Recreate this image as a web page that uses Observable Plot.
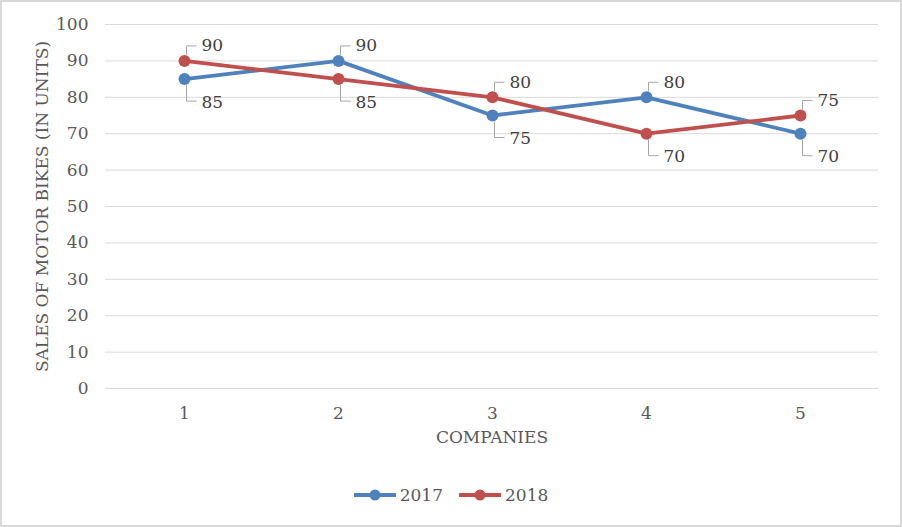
<!DOCTYPE html>
<html><head><meta charset="utf-8">
<script src="https://cdn.jsdelivr.net/npm/d3@7"></script>
<script src="https://cdn.jsdelivr.net/npm/@observablehq/plot@0.6"></script>
<style>
html,body{margin:0;padding:0;background:#fff;}
#chart{width:902px;height:527px;position:relative;font-family:"DejaVu Serif",serif;color:#595959;overflow:hidden;background:#fff}
#frame{position:absolute;left:0;top:0;width:902px;height:527px;box-sizing:border-box;border:2px solid #d9d9d9;pointer-events:none}
#legend{position:absolute;top:484px;left:0;width:100%;display:flex;justify-content:center;gap:16px;font-size:17px;line-height:22px}
.item{display:flex;align-items:center;gap:4px}
</style></head>
<body><div id="chart"><div id="frame"></div><div id="legend"></div></div>
<script>
const companies = [1, 2, 3, 4, 5];
const sales2017 = [85, 90, 75, 80, 70];
const sales2018 = [90, 85, 80, 70, 75];
const seriesNames = ["2017", "2018"];
const seriesColors = ["#4F81BD", "#C0504D"];
const yTicks = [0, 10, 20, 30, 40, 50, 60, 70, 80, 90, 100];
const yLabel = "SALES OF MOTOR BIKES (IN UNITS)";
const xLabel = "COMPANIES";

const seriesValues = [sales2017, sales2018];
const rows = [];
companies.forEach((c, i) => {
  seriesNames.forEach((s, k) => {
    const v = seriesValues[k][i];
    const other = seriesValues[1 - k][i];
    rows.push({company: c, series: s, value: v, above: v > other});
  });
});
const aboveRows = rows.filter(d => d.above);
const belowRows = rows.filter(d => !d.above);

const leaderUp = {draw(ctx) { ctx.moveTo(2, -6); ctx.lineTo(2, -15); ctx.lineTo(12, -15); }};
const leaderDown = {draw(ctx) { ctx.moveTo(2, 6); ctx.lineTo(2, 22); ctx.lineTo(12, 22); }};

const chart = Plot.plot({
  width: 902,
  height: 470,
  marginTop: 24,
  marginBottom: 82,
  marginLeft: 105,
  marginRight: 24,
  style: {fontFamily: "DejaVu Serif, serif", fontSize: "17px", color: "#595959", background: "transparent"},
  x: {type: "point", domain: companies, padding: 0.5, label: null},
  y: {domain: [0, 100], label: null},
  color: {domain: seriesNames, range: seriesColors},
  marks: [
    Plot.gridY(yTicks, {stroke: "#d9d9d9", strokeOpacity: 1, strokeWidth: 1}),
    Plot.axisY(yTicks, {tickSize: 0, tickPadding: 17, fontSize: 17, label: null}),
    Plot.axisX(companies, {tickSize: 0, tickPadding: 18, fontSize: 17, label: null}),
    Plot.text([yLabel], {frameAnchor: "left", dx: -63, rotate: -90, textAnchor: "middle", fontSize: 17, fill: "#595959"}),
    Plot.text([xLabel], {frameAnchor: "bottom", dy: 54, textAnchor: "middle", fontSize: 17, fill: "#595959"}),
    Plot.line(rows, {x: "company", y: "value", z: "series", stroke: "series", strokeWidth: 3.8}),
    Plot.dot(aboveRows, {x: "company", y: "value", symbol: leaderUp, r: 5, fill: "none", stroke: "#a6a6a6", strokeWidth: 1}),
    Plot.dot(belowRows, {x: "company", y: "value", symbol: leaderDown, r: 5, fill: "none", stroke: "#a6a6a6", strokeWidth: 1}),
    Plot.dot(rows, {x: "company", y: "value", fill: "series", r: 6}),
    Plot.text(aboveRows, {x: "company", y: "value", text: d => String(d.value), dx: 17, dy: -15, textAnchor: "start", fontSize: 17, fill: "#404040"}),
    Plot.text(belowRows, {x: "company", y: "value", text: d => String(d.value), dx: 17, dy: 23, textAnchor: "start", fontSize: 17, fill: "#404040"})
  ]
});
chart.style.position = "absolute";
chart.style.left = "0px";
chart.style.top = "0px";
document.getElementById("chart").insertBefore(chart, document.getElementById("frame"));

const legend = document.getElementById("legend");
seriesNames.forEach((s, k) => {
  const item = document.createElement("div");
  item.className = "item";
  item.innerHTML = `<svg width="42" height="14"><line x1="0" y1="7" x2="42" y2="7" stroke="${seriesColors[k]}" stroke-width="3.8"/><circle cx="21" cy="7" r="5.5" fill="${seriesColors[k]}"/></svg><span>${s}</span>`;
  legend.appendChild(item);
});
</script>
</body></html>
